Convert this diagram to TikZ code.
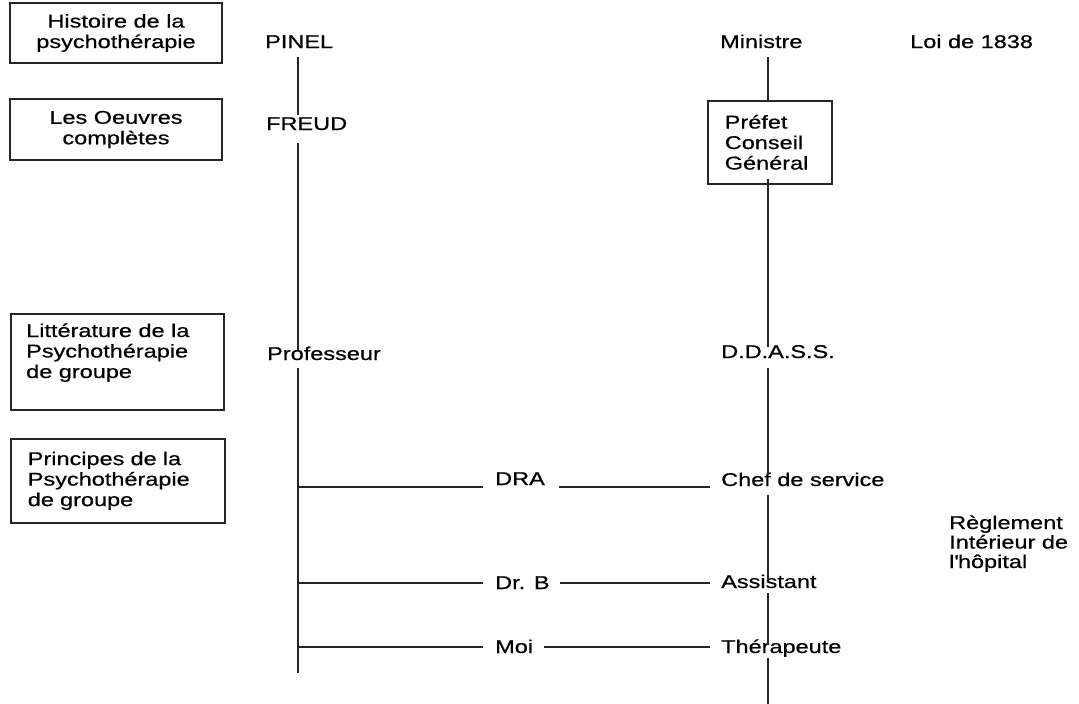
\documentclass[tikz,border=0pt]{standalone}
\usepackage{fontspec}
\setmainfont{Liberation Sans}[FakeStretch=1.27,FakeBold=0.6]
\begin{document}
\begin{tikzpicture}[x=1pt,y=-1pt,
  every node/.style={font=\fontsize{18.5}{20.5}\selectfont, inner sep=0pt, text=black},
  lbl/.style={anchor=base west},
  box/.style={draw=black!85, line width=1.6pt},
  ln/.style={draw=black!85, line width=1.5pt}]
\fill[white] (0,0) rectangle (1079,704);
\useasboundingbox (0,0) rectangle (1079,704);

% left boxes
\node[box, minimum width=212pt, minimum height=60pt, align=center] (b1) at (116,33) {Histoire de la\\psychothérapie};
\node[box, minimum width=212pt, minimum height=61pt, align=center] (b2) at (116,129.5) {Les Oeuvres\\complètes};
\node[box, minimum width=213pt, minimum height=96pt, anchor=north west] (b3) at (10,313) {};
\node[lbl, align=left] (t3) at (26,378) {Littérature de la\\Psychothérapie\\de groupe};
\node[box, minimum width=214pt, minimum height=84pt, anchor=north west, align=left, text width=180pt, inner xsep=17pt] (b4) at (10,438) {Principes de la\\Psychothérapie\\de groupe};

% left column
\node[lbl] (pinel) at (265,48) {PINEL};
\node[lbl] (freud) at (266,130) {FREUD};
\node[lbl] (prof) at (267,360) {Professeur};
\node[lbl] (dra) at (495,485) {DRA};
\node[lbl] (drb) at (495,589) {Dr. B};
\node[lbl] (moi) at (495,653) {Moi};

% right column
\node[lbl] (ministre) at (720,48) {Ministre};
\node[box, anchor=north west, minimum width=124pt, minimum height=83pt, align=left, text width=90pt, inner xsep=17pt] (prefet) at (707,100) {Préfet\\Conseil\\Général};
\node[lbl] (ddass) at (721,358) {D.D.A.S.S.};
\node[lbl] (chef) at (721,486) {Chef de service};
\node[lbl] (assist) at (721,588) {Assistant};
\node[lbl] (thera) at (721,653) {Thérapeute};

\node[lbl] (loi) at (910,48) {Loi de 1838};
\node[lbl, align=left, font=\fontsize{18.5}{19.5}\selectfont] (regl) at (949,568) {Règlement\\Intérieur de\\l\textquotesingle hôpital};

\coordinate (cL) at (298,0);
\coordinate (cR) at (768,0);
\coordinate (lEnd) at (298,673);
\coordinate (rEnd) at (768,704);
\coordinate (jA) at (298,487);
\coordinate (jB) at (298,583);
\coordinate (jC) at (298,647);

\draw[ln] ([yshift=-9pt]pinel.base -| cL) -- ([yshift=15pt]freud.base -| cL);
\draw[ln] ([yshift=-13pt]freud.base -| cL) -- ([yshift=10pt]prof.base -| cL);
\draw[ln] ([yshift=-8pt]prof.base -| cL) -- (lEnd);

\draw[ln] (jA) -- ([xshift=-12pt]dra.base west |- jA);
\draw[ln] ([xshift=14pt]dra.base east |- jA) -- ([xshift=-11pt]chef.base west |- jA);
\draw[ln] (jB) -- ([xshift=-12pt]drb.base west |- jB);
\draw[ln] ([xshift=10pt]drb.base east |- jB) -- ([xshift=-11pt]assist.base west |- jB);
\draw[ln] (jC) -- ([xshift=-12pt]moi.base west |- jC);
\draw[ln] ([xshift=11pt]moi.base east |- jC) -- ([xshift=-11pt]thera.base west |- jC);

\draw[ln] ([yshift=-9pt]ministre.base -| cR) -- (prefet.north -| cR);
\draw[ln] ([yshift=6pt]prefet.south -| cR) -- ([yshift=11pt]ddass.base -| cR);
\draw[ln] ([yshift=-10pt]ddass.base -| cR) -- ([yshift=11pt]chef.base -| cR);
\draw[ln] ([yshift=-9pt]chef.base -| cR) -- ([yshift=8pt]assist.base -| cR);
\draw[ln] ([yshift=-5pt]assist.base -| cR) -- ([yshift=8pt]thera.base -| cR);
\draw[ln] ([yshift=-5pt]thera.base -| cR) -- (rEnd);
\end{tikzpicture}
\end{document}
